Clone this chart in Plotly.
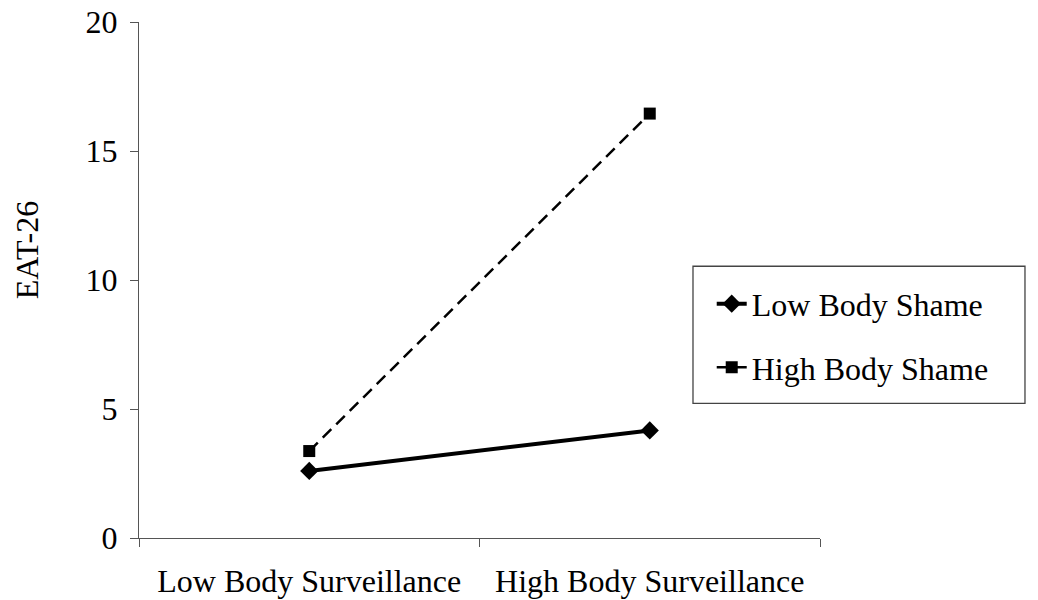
import plotly.graph_objects as go

categories = ["Low Body Surveillance", "High Body Surveillance"]
low_shame = [2.6, 4.17]
high_shame = [3.37, 16.45]
y_ticks = [0, 5, 10, 15, 20]

FONT = "Liberation Serif, Times New Roman, serif"
FS = 32

fig = go.Figure()
fig.add_trace(go.Scatter(
    x=categories, y=low_shame, name="Low Body Shame", legendgroup="a",
    mode="lines+markers",
    line=dict(color="black", width=4),
    marker=dict(symbol="diamond", size=14, color="black"),
))
fig.add_trace(go.Scatter(
    x=categories, y=high_shame, name="High Body Shame", legendgroup="b",
    mode="lines+markers",
    line=dict(color="black", width=2.5, dash="12px,7px"),
    marker=dict(symbol="square", size=12, color="black"),
))

fig.update_layout(
    width=1038, height=600,
    margin=dict(l=139, r=218, t=22, b=62, autoexpand=False),
    paper_bgcolor="white", plot_bgcolor="white",
    font=dict(family=FONT, size=FS, color="black"),
    showlegend=True,
    legend=dict(
        x=0.841, y=0.507, xanchor="left", yanchor="top",
        borderwidth=0, bgcolor="rgba(0,0,0,0)",
        font=dict(family=FONT, size=FS),
        tracegroupgap=19,
    ),
)
# legend frame
fig.add_shape(
    type="rect", xref="paper", yref="paper",
    x0=0.8135, x1=1.301, y0=0.261, y1=0.5266,
    line=dict(color="#444", width=1.3), fillcolor="rgba(0,0,0,0)",
    layer="below",
)
fig.update_xaxes(
    type="category", range=[-0.5, 1.5], automargin=False,
    showline=True, linecolor="#555", linewidth=1.3,
    ticks="outside", tickson="boundaries", ticklen=8, tickcolor="#555",
    ticklabelstandoff=14,
    showgrid=False, zeroline=False,
    tickfont=dict(family=FONT, size=FS),
)
fig.update_yaxes(
    range=[0, 20], tickvals=y_ticks, automargin=False,
    showline=True, linecolor="#555", linewidth=1.3,
    ticks="outside", ticklen=8, tickcolor="#555",
    ticklabelstandoff=6, ticklabeloverflow="allow",
    showgrid=False, zeroline=False,
    tickfont=dict(family=FONT, size=FS),
)
fig.add_annotation(
    text="EAT-26", textangle=-90, xref="paper", yref="paper",
    x=-0.165, y=0.557, xanchor="center", yanchor="middle", showarrow=False,
    font=dict(family=FONT, size=FS),
)

fig.write_html(
    "out.html",
    config={"displayModeBar": False},
    post_script="document.body.style.margin='0';document.body.style.overflow='hidden';",
)
